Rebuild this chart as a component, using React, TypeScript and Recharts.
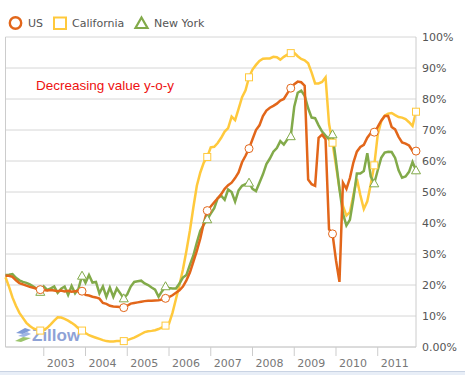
import React from 'react';
import { LineChart, Line, XAxis, YAxis, CartesianGrid, ReferenceLine } from 'recharts';

// monthly series, Feb 2002 .. Dec 2011 (share of homes losing value year over year, %)
const startYear = 2002;
const startMonth = 2;

const yearLabels = ['2003', '2004', '2005', '2006', '2007', '2008', '2009', '2010', '2011'];
const valueTicks = [0, 10, 20, 30, 40, 50, 60, 70, 80, 90, 100];

const usValues = [
  23, 23, 22.6, 21.5, 20.6, 20.2, 19.8, 19.4, 19.1, 18.8, 18.5,
  18.4, 18.2, 18.4, 18.2, 18.0, 18.2, 17.9, 18.1, 17.8, 18.0, 18.1, 18.0,
  16.8, 16.6, 16.2, 16.0, 15.6, 14.2, 13.9, 13.3, 13.1, 13.0, 12.9, 12.7,
  13.3, 14.0, 14.2, 14.4, 14.6, 14.8, 14.9, 14.9, 15.0, 15.1, 15.3, 15.7,
  16.1, 16.7, 17.5, 18.3, 19.5, 21.5, 24, 27.5, 31, 35, 40, 44,
  45.3, 46.7, 48, 49.3, 51, 52.2, 53, 54.5, 56.3, 59.6, 61.7, 64,
  67, 70, 71.5, 74.5, 76.3, 77.2, 77.8, 78.5, 79.5, 80, 81.8, 83.5,
  84.8, 85.6, 85.4, 84.3, 54, 52.5, 52, 67.5, 68.5, 67, 38, 36.5,
  28, 21, 53, 51, 54.5, 59.5, 63, 64.5, 65.2, 67.5, 69, 69.3,
  71, 73, 74.5, 74.5, 71, 70.2, 67.8, 66, 65.6, 65, 63.3, 63.2,
];

const californiaValues = [
  22.5, 19.5, 16, 13.3, 11, 9.4, 7.8, 6.8, 6, 5.6, 5.3,
  5.5, 6.2, 7.3, 8.5, 9.6, 9.5, 9.1, 8.5, 7.8, 7, 6, 5.3,
  4.5, 3.8, 3.4, 3, 2.6, 2.2, 1.9, 1.8, 1.8, 1.9, 1.9, 1.9,
  2.2, 2.6, 3, 3.6, 4.2, 4.8, 5.1, 5.2, 5.4, 5.8, 6.3, 6.9,
  7.5, 11, 15.5, 20, 25, 31, 37.5, 45, 52, 56.3, 59.5, 61.3,
  64.4, 64.6, 65.8, 67.5, 69.5, 70.6, 74.3, 73.2, 76.8, 80.6, 82.8, 87,
  89.5, 91, 92.3, 93, 93.1, 93.1, 93.6, 93.5, 92.7, 93.6, 94.3, 94.8,
  94.9, 93.8, 92.9, 92.5, 91.5, 88.5, 85, 85, 85.5, 87, 72, 65.9,
  58.5, 51, 45.5, 42.4, 43.5, 49, 54.3, 49, 44.5, 47, 52.5, 58.6,
  68.5, 72.8, 74.6, 75.3, 75.5, 74.8, 74.2, 74, 73.5, 72.5, 71.3, 75.9,
];

const newYorkValues = [
  23.2, 23.3, 23.5, 22.3, 21.5, 21, 20.7, 20.2, 19.5, 18.8, 17.8,
  19.5, 18.4, 18.9, 19.5, 17.5, 18.8, 19.5, 16.8, 19.7, 17.3, 18.9, 23,
  20.7, 23.2, 20.8, 21, 17.3, 19.5, 16.2, 19.2, 16.2, 18.9, 17.3, 15.7,
  17, 19.5, 21, 21.2, 21.4, 20.5, 20, 19.2, 18.5, 16.2, 18, 19.6,
  19, 18.9, 18.9, 20.5, 22.4, 23.2, 26.5, 29.5, 33.7, 37.5, 39.5, 41.2,
  43, 44.8, 48, 48.8, 47.5, 50.8, 50, 46.9, 50.5, 52, 52.5, 53,
  51, 50.3, 53, 55.7, 59, 60.8, 63, 64.2, 66.4, 65.3, 66.9, 68,
  77.5, 82, 82.7, 81, 77, 74, 73.8, 71.5, 69.5, 68.2, 67, 68.6,
  60, 51, 43, 39.2, 41, 47.8, 56, 56, 56.8, 62.5, 55, 52.8,
  57, 61, 62.7, 63, 62.9, 61, 57, 54.6, 55, 56.5, 59.7, 57,
];

const data = usValues.map((us, i) => ({
  i,
  us,
  ca: californiaValues[i],
  ny: newYorkValues[i],
}));

const yearTicks = yearLabels.map((y) => (Number(y) - startYear) * 12 - (startMonth - 1));
const lastIndex = usValues.length - 1;

const US_COLOR = '#e2661a';
const CA_COLOR = '#ffc93c';
const NY_COLOR = '#82aa4a';

// one open marker per year, on each December
const isMarker = (index: number) => (index + startMonth) % 12 === 0;

const circleDot = (props: any) => {
  const { cx, cy, index } = props;
  if (!isMarker(index)) return <g key={`us-${index}`} />;
  return <circle key={`us-${index}`} cx={cx} cy={cy} r={4} fill="#fff" stroke={US_COLOR} strokeWidth={1} />;
};

const squareDot = (props: any) => {
  const { cx, cy, index } = props;
  if (!isMarker(index)) return <g key={`ca-${index}`} />;
  return <rect key={`ca-${index}`} x={cx - 3.5} y={cy - 3.5} width={7} height={7} fill="#fff" stroke={CA_COLOR} strokeWidth={1} />;
};

const triangleDot = (props: any) => {
  const { cx, cy, index } = props;
  if (!isMarker(index)) return <g key={`ny-${index}`} />;
  return (
    <path
      key={`ny-${index}`}
      d={`M${cx},${cy - 4.5} L${cx + 4.5},${cy + 3.5} L${cx - 4.5},${cy + 3.5} Z`}
      fill="#fff"
      stroke={NY_COLOR}
      strokeWidth={1}
    />
  );
};

const YearTick = (props: any) => {
  const { x, y, payload } = props;
  const year = startYear + Math.floor((payload.value + startMonth - 1) / 12);
  return (
    <text x={x + 3} y={y} dy={9} fill="#777" fontSize={11} fontFamily="DejaVu Sans" textAnchor="start">
      {year}
    </text>
  );
};

const PercentTick = (props: any) => {
  const { x, y, payload } = props;
  const label = payload.value === 0 ? '0.00%' : `${payload.value}%`;
  return (
    <text x={x} y={y} dy={4} fill="#555" fontSize={11} fontFamily="DejaVu Sans" textAnchor="start">
      {label}
    </text>
  );
};

export default function App() {
  return (
    <div style={{ position: 'absolute', left: 0, top: 0, width: 465, height: 375, background: '#fff', overflow: 'hidden' }}>
      {/* watermark sits under the lines */}
      <svg width={465} height={375} style={{ position: 'absolute', left: 0, top: 0 }}>
        <path d="M16,333 L25,328 L31,330 L23,334 Z" fill="#7f9bd8" />
        <path d="M18,336 L27,332 L31,334 L24,337 Z" fill="#9fb5e4" />
        <path d="M15,341 L23,337 L31,338 L21,342 Z" fill="#9cc56c" />
        <text x={32} y={341} fontFamily="Liberation Sans" fontWeight="bold" fontSize={17} fill="#8ea2d6">
          Zillow
        </text>
      </svg>
      <div style={{ position: 'absolute', left: 0, top: 0 }}>
        <LineChart width={465} height={375} data={data} margin={{ top: 37, right: 0, bottom: 0, left: 5.5 }}>
          <CartesianGrid vertical={false} stroke="#d6d6d6" />
          <XAxis
            dataKey="i"
            type="number"
            domain={[0, lastIndex]}
            ticks={yearTicks}
            tick={<YearTick />}
            tickSize={9}
            tickMargin={2}
            height={28}
            stroke="#cccccc"
          />
          <YAxis
            orientation="right"
            domain={[0, 100]}
            ticks={valueTicks}
            tick={<PercentTick />}
            tickLine={false}
            tickSize={0}
            tickMargin={6}
            width={49}
            stroke="#cccccc"
          />
          <ReferenceLine x={0} stroke="#cccccc" />
          <Line type="linear" dataKey="ca" stroke={CA_COLOR} strokeWidth={2.5} dot={squareDot} activeDot={false} isAnimationActive={false} />
          <Line type="linear" dataKey="ny" stroke={NY_COLOR} strokeWidth={2.5} dot={triangleDot} activeDot={false} isAnimationActive={false} />
          <Line type="linear" dataKey="us" stroke={US_COLOR} strokeWidth={2.5} dot={circleDot} activeDot={false} isAnimationActive={false} />
        </LineChart>
      </div>
      <svg width={465} height={100} style={{ position: 'absolute', left: 0, top: 0, pointerEvents: 'none' }}>
        <circle cx={15.5} cy={23} r={5.7} fill="none" stroke={US_COLOR} strokeWidth={2.4} />
        <text x={28} y={27} fontFamily="DejaVu Sans" fontSize={11} fill="#555">US</text>
        <rect x={54} y={17.5} width={12} height={11.5} fill="none" stroke={CA_COLOR} strokeWidth={2} />
        <text x={72} y={27} fontFamily="DejaVu Sans" fontSize={11} fill="#555">California</text>
        <path d="M141.5,17.5 L147.5,28 L135.5,28 Z" fill="none" stroke={NY_COLOR} strokeWidth={2.2} strokeLinejoin="miter" />
        <text x={154} y={27} fontFamily="DejaVu Sans" fontSize={11} fill="#555">New York</text>
        <text x={36} y={89.5} fontFamily="Liberation Sans" fontSize={13.5} fill="#ee1111">
          Decreasing value y-o-y
        </text>
      </svg>
      <div style={{ position: 'absolute', left: 0, top: 371, width: 465, height: 4, background: '#e8eef7', borderTop: '1px solid #c9d3e3' }} />
    </div>
  );
}
